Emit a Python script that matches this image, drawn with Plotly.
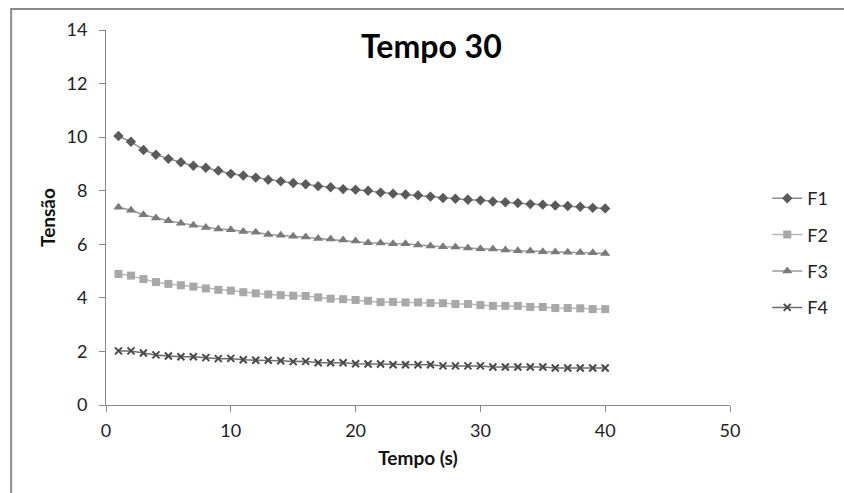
import plotly.graph_objects as go

# Time samples (s)
tempo = list(range(1, 41))

# Tension readings for each series
f1 = [10.04, 9.83, 9.52, 9.34, 9.19, 9.06, 8.93, 8.86, 8.75, 8.63,
      8.57, 8.49, 8.41, 8.35, 8.29, 8.24, 8.17, 8.13, 8.06, 8.04,
      8.00, 7.93, 7.89, 7.86, 7.83, 7.78, 7.73, 7.70, 7.66, 7.64,
      7.60, 7.57, 7.54, 7.50, 7.48, 7.45, 7.43, 7.40, 7.36, 7.34]
f2 = [4.89, 4.83, 4.70, 4.59, 4.52, 4.47, 4.42, 4.35, 4.30, 4.27,
      4.21, 4.17, 4.13, 4.10, 4.08, 4.07, 4.02, 3.97, 3.95, 3.92,
      3.89, 3.84, 3.85, 3.83, 3.83, 3.81, 3.80, 3.77, 3.77, 3.73,
      3.70, 3.70, 3.70, 3.66, 3.66, 3.62, 3.62, 3.61, 3.58, 3.58]
f3 = [7.38, 7.27, 7.10, 6.98, 6.88, 6.79, 6.71, 6.63, 6.57, 6.54,
      6.48, 6.45, 6.37, 6.34, 6.30, 6.27, 6.22, 6.20, 6.16, 6.12,
      6.06, 6.05, 6.02, 6.02, 5.97, 5.94, 5.91, 5.90, 5.86, 5.83,
      5.82, 5.79, 5.76, 5.75, 5.72, 5.71, 5.70, 5.69, 5.68, 5.66]
f4 = [2.02, 2.02, 1.94, 1.87, 1.83, 1.80, 1.80, 1.77, 1.73, 1.74,
      1.69, 1.67, 1.67, 1.65, 1.62, 1.63, 1.58, 1.58, 1.58, 1.54,
      1.53, 1.53, 1.50, 1.50, 1.50, 1.50, 1.46, 1.46, 1.46, 1.46,
      1.42, 1.42, 1.42, 1.42, 1.42, 1.38, 1.38, 1.38, 1.38, 1.38]

names = ["F1", "F2", "F3", "F4"]
series = [f1, f2, f3, f4]
marker_colors = ["#5a5a5a", "#a8a8a8", "#7a7a7a", "#4a4a4a"]
line_colors = ["#8c8c8c", "#b8b8b8", "#999999", "#6e6e6e"]
symbols = ["diamond", "square", "triangle-up", "x-thin"]
sizes = [8, 8, 9, 7]

FONT = "Lato, 'Open Sans', sans-serif"

fig = go.Figure()
for name, ys, mc, lc, sym, sz in zip(names, series, marker_colors, line_colors, symbols, sizes):
    marker = dict(symbol=sym, size=sz, color=mc)
    if sym == "x-thin":
        marker["line"] = dict(color=mc, width=2)
    fig.add_trace(go.Scatter(
        x=tempo, y=ys, name=name, mode="lines+markers",
        line=dict(color=lc, width=1.5),
        marker=marker,
        legendgroup=name,
    ))

fig.update_layout(
    width=844, height=493,
    margin=dict(l=106, r=113, t=30, b=88),
    paper_bgcolor="white", plot_bgcolor="white",
    font=dict(family=FONT, size=18, color="#222222"),
    showlegend=True,
    legend=dict(
        x=1.058, y=0.6, xanchor="left", yanchor="top",
        font=dict(size=18, color="#222222"),
        tracegroupgap=10, bgcolor="rgba(0,0,0,0)",
    ),
    xaxis=dict(
        range=[0, 50], tickvals=[0, 10, 20, 30, 40, 50],
        showgrid=False, zeroline=False,
        showline=True, linecolor="#8a8a8a", linewidth=1,
        ticks="outside", ticklen=6, tickcolor="#8a8a8a",
        ticklabelstandoff=3,
        tickfont=dict(size=18, color="#222222"),
        title=dict(text="<b>Tempo (s)</b>", font=dict(size=19, color="#111111"), standoff=12),
    ),
    yaxis=dict(
        range=[0, 14], tickvals=[0, 2, 4, 6, 8, 10, 12, 14],
        showgrid=False, zeroline=False,
        showline=True, linecolor="#8a8a8a", linewidth=1,
        ticks="outside", ticklen=6, tickcolor="#8a8a8a",
        ticklabelstandoff=8,
        tickfont=dict(size=18, color="#222222"),
        title=dict(text="<b>Tensão</b>", font=dict(size=19, color="#111111"), standoff=5),
    ),
    annotations=[dict(
        text="<b>Tempo 30</b>", xref="paper", yref="paper",
        x=(432 - 106) / 625, y=(405 - 45) / 375,
        xanchor="center", yanchor="middle", showarrow=False,
        font=dict(size=32, color="#000000", family=FONT),
    )],
    shapes=[dict(
        type="rect", xref="paper", yref="paper",
        x0=(11 - 106) / 625, x1=(870 - 106) / 625,
        y0=(405 - 520) / 375, y1=(405 - 9) / 375,
        line=dict(color="#8a8a8a", width=2), layer="below",
    )],
)

fig.write_html("out.html")
